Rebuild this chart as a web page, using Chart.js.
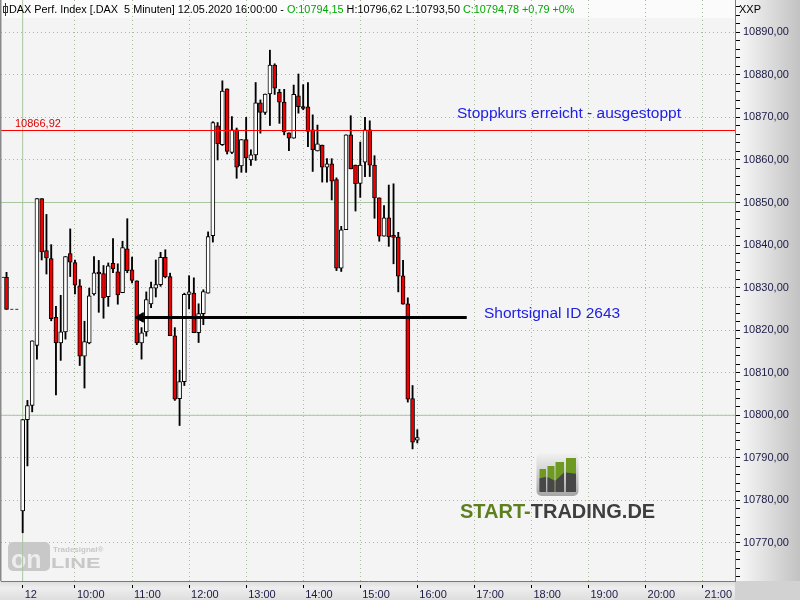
<!DOCTYPE html>
<html>
<head>
<meta charset="utf-8">
<script src="https://cdn.jsdelivr.net/npm/chart.js@4.4.0/dist/chart.umd.min.js"></script>
<style>
  html, body { margin: 0; padding: 0; background: #f4f4f4; }
  canvas { display: block; }
</style>
</head>
<body>
<canvas id="chart" width="800" height="600"></canvas>
<script>
/* ── DAX 5-Minuten, 12.05.2020 ── */

const barTimes = [
  '09:05','09:10','09:15','09:20','09:25','09:30','09:35','09:40','09:45','09:50','09:55','10:00',
  '10:05','10:10','10:15','10:20','10:25','10:30','10:35','10:40','10:45','10:50','10:55','11:00',
  '11:05','11:10','11:15','11:20','11:25','11:30','11:35','11:40','11:45','11:50','11:55','12:00',
  '12:05','12:10','12:15','12:20','12:25','12:30','12:35','12:40','12:45','12:50','12:55','13:00',
  '13:05','13:10','13:15','13:20','13:25','13:30','13:35','13:40','13:45','13:50','13:55','14:00',
  '14:05','14:10','14:15','14:20','14:25','14:30','14:35','14:40','14:45','14:50','14:55','15:00',
  '15:05','15:10','15:15','15:20','15:25','15:30','15:35','15:40','15:45','15:50','15:55','16:00',
];

const opens = [
  10777.5, 10799.0, 10802.3, 10816.4, 10850.9, 10838.7, 10836.8, 10823.0, 10817.0, 10819.6, 10838.0, 10835.9,
  10830.4, 10813.9, 10817.0, 10828.5, 10833.5, 10833.3, 10827.9, 10835.7, 10833.7, 10828.8, 10839.1, 10834.2,
  10831.6, 10817.0, 10819.6, 10826.2, 10829.9, 10830.7, 10837.1, 10832.6, 10818.7, 10803.9, 10807.9, 10828.4,
  10828.7, 10819.4, 10823.9, 10828.7, 10842.2, 10868.0, 10863.6, 10876.7, 10861.8, 10867.1, 10858.6, 10864.8,
  10860.0, 10861.2, 10873.4, 10871.2, 10875.5, 10882.3, 10875.9, 10873.6, 10866.4, 10865.1, 10875.1, 10872.5,
  10872.5, 10867.1, 10862.1, 10863.5, 10858.3, 10859.1, 10855.4, 10834.6, 10843.6, 10865.9, 10858.8, 10854.5,
  10859.5, 10867.1, 10858.8, 10851.1, 10842.1, 10846.4, 10842.0, 10841.9, 10832.8, 10826.2, 10803.9, 10794.15,
];
const highs = [
  10799.0, 10803.5, 10817.5, 10850.9, 10850.9, 10847.2, 10840.1, 10825.6, 10828.2, 10837.3, 10843.8, 10836.5,
  10831.9, 10822.1, 10829.9, 10837.3, 10836.4, 10835.2, 10835.8, 10841.5, 10835.6, 10840.9, 10846.2, 10837.2,
  10831.6, 10820.6, 10829.0, 10831.3, 10836.5, 10838.3, 10838.9, 10833.4, 10820.6, 10810.6, 10828.7, 10832.8,
  10832.3, 10826.2, 10829.5, 10843.1, 10869.0, 10868.8, 10878.6, 10876.7, 10870.2, 10867.5, 10864.8, 10870.0,
  10862.4, 10878.2, 10874.1, 10875.5, 10885.8, 10882.6, 10876.6, 10876.6, 10866.4, 10877.6, 10880.2, 10877.7,
  10878.2, 10870.6, 10868.2, 10863.5, 10860.3, 10860.3, 10855.8, 10844.4, 10865.9, 10870.4, 10858.8, 10864.2,
  10870.0, 10869.2, 10861.0, 10851.1, 10849.3, 10854.1, 10854.4, 10843.0, 10836.4, 10827.6, 10807.0, 10796.62,
];
const lows = [
  10772.4, 10788.1, 10800.8, 10813.2, 10836.5, 10833.2, 10822.2, 10804.8, 10812.9, 10817.9, 10832.6, 10828.5,
  10811.7, 10806.4, 10816.8, 10828.2, 10824.2, 10822.8, 10825.6, 10833.5, 10826.1, 10828.8, 10833.5, 10831.1,
  10816.6, 10813.2, 10818.6, 10825.3, 10827.8, 10830.3, 10832.3, 10818.7, 10803.5, 10797.6, 10807.0, 10825.0,
  10819.4, 10817.1, 10821.3, 10828.7, 10840.7, 10860.0, 10863.4, 10861.4, 10861.5, 10855.7, 10857.1, 10857.1,
  10858.7, 10859.9, 10866.3, 10870.7, 10868.1, 10875.4, 10868.6, 10865.9, 10862.2, 10865.1, 10871.0, 10871.8,
  10863.1, 10857.3, 10862.1, 10854.8, 10854.8, 10850.6, 10834.0, 10833.8, 10843.6, 10857.9, 10848.0, 10851.2,
  10856.1, 10856.1, 10846.3, 10840.9, 10842.1, 10839.7, 10835.6, 10829.0, 10826.1, 10803.1, 10792.1, 10793.50,
];
const closes = [
  10799.0, 10802.3, 10817.5, 10850.9, 10838.4, 10837.0, 10822.7, 10817.0, 10819.6, 10837.3, 10836.0, 10830.6,
  10813.9, 10817.3, 10828.1, 10833.5, 10833.2, 10827.6, 10835.1, 10834.4, 10828.3, 10839.4, 10834.0, 10831.7,
  10817.0, 10819.4, 10827.2, 10830.0, 10830.7, 10837.1, 10832.5, 10818.7, 10803.8, 10807.9, 10828.4, 10829.0,
  10819.4, 10823.9, 10829.1, 10842.0, 10868.8, 10863.8, 10876.2, 10862.0, 10867.1, 10858.3, 10864.8, 10860.5,
  10861.2, 10873.4, 10871.2, 10875.5, 10882.3, 10876.9, 10873.6, 10866.6, 10865.1, 10875.4, 10872.5, 10872.1,
  10866.7, 10862.4, 10863.8, 10858.3, 10859.1, 10855.0, 10834.6, 10843.6, 10865.9, 10857.9, 10854.4, 10858.8,
  10867.1, 10858.8, 10851.1, 10842.1, 10846.4, 10841.9, 10841.8, 10832.7, 10826.1, 10803.8, 10793.7, 10794.78,
];

// Vortag (Schlusskerze links vom Tagesbeginn)
const prevTime  = '08:48';
const prevOHLC  = [10832.4, 10833.6, 10824.9, 10824.9];
const prevOpenTick  = ['08:43', '08:47'];
const prevCloseTick = ['08:52', '09:01'];

// Achsen
const xTickTimes  = ['09:05','10:00','11:00','12:00','13:00','14:00','15:00','16:00','17:00','18:00','19:00','20:00','21:00'];
const xTickLabels = ['12','10:00','11:00','12:00','13:00','14:00','15:00','16:00','17:00','18:00','19:00','20:00','21:00'];

// Markierungen
const stopLevel   = 10866.92;
const greenLevels = [10850, 10800];
const signalLevel = 10823;
const signalFrom  = '11:09';
const signalTo    = '16:52';
const stopText    = 'Stoppkurs erreicht - ausgestoppt';
const signalText  = 'Shortsignal ID 2643';

const toMin = s => { const p = s.split(':'); return +p[0] * 60 + +p[1]; };
const fmt = v => v.toFixed(2).replace('.', ',');

const X_MIN = 522.2, X_MAX = 1294.1;
const Y_MIN = 10761.06, Y_MAX = 10897.59;
const FONT = '"Liberation Sans", Arial, sans-serif';
const LABEL = '#1a1a46';
const GRID  = '#a6b89e';
const GREEN = '#a9c6a0';

const hline = (y, color, extra) => Object.assign({
  type: 'line', data: [{ x: X_MIN, y }, { x: X_MAX, y }],
  borderColor: color, borderWidth: 1, pointRadius: 0, fill: false, order: 10,
}, extra || {});

function roundRect(ctx, x, y, w, h, r) {
  ctx.beginPath();
  ctx.moveTo(x + r, y);
  ctx.arcTo(x + w, y, x + w, y + h, r);
  ctx.arcTo(x + w, y + h, x, y + h, r);
  ctx.arcTo(x, y + h, x, y, r);
  ctx.arcTo(x, y, x + w, y, r);
  ctx.closePath();
}

/* ── Rahmen, Achsenflächen, Logos, Texte ── */
const decor = {
  id: 'decor',
  beforeDraw(chart) {
    const { ctx, chartArea: a, width, height } = chart;
    ctx.save();
    ctx.fillStyle = '#f4f4f4';
    ctx.fillRect(0, 0, width, height);
    // Kopfzeile
    ctx.fillStyle = 'rgba(255,255,255,0.6)';
    ctx.fillRect(a.left, 0, a.right - a.left, 18);
    // rechte Achse
    let g = ctx.createLinearGradient(a.right, 0, width, 0);
    g.addColorStop(0, '#fbfbfb');
    g.addColorStop(1, '#c2c2c2');
    ctx.fillStyle = g;
    ctx.fillRect(a.right, 0, width - a.right, a.bottom);
    // untere Achse
    g = ctx.createLinearGradient(0, a.bottom, 0, height);
    g.addColorStop(0, '#dcdcdc');
    g.addColorStop(0.35, '#eeeeee');
    g.addColorStop(1, '#dedede');
    ctx.fillStyle = g;
    ctx.fillRect(0, a.bottom, a.right, height - a.bottom);
    ctx.fillStyle = '#d2d2d2';
    ctx.fillRect(a.right, a.bottom, width - a.right, height - a.bottom);
    ctx.restore();
  },
  beforeDatasetsDraw(chart) {
    const { ctx } = chart;
    ctx.save();
    // Tradesignal online
    ctx.fillStyle = '#c8c8c8';
    roundRect(ctx, 8, 542, 42, 29, 5);
    ctx.fill();
    ctx.fillStyle = '#ededed';
    ctx.font = 'bold 25px ' + FONT;
    ctx.textBaseline = 'alphabetic';
    ctx.fillText('on', 11, 568);
    ctx.fillStyle = '#c8c8c8';
    ctx.font = 'bold 8px ' + FONT;
    ctx.fillText('Tradesignal\u00AE', 53, 552);
    ctx.save();
    ctx.translate(51, 568);
    ctx.scale(1.45, 1);
    ctx.font = 'bold 15px ' + FONT;
    ctx.fillText('LINE', 0, 0);
    ctx.restore();

    // START-TRADING.DE
    const g = ctx.createLinearGradient(0, 453, 0, 496);
    g.addColorStop(0, '#f2f2f2');
    g.addColorStop(1, '#a6a6a6');
    ctx.fillStyle = g;
    roundRect(ctx, 536.5, 453, 42, 43, 5);
    ctx.fill();
    const bars = [[539.5, 546, 469, 476.7, 475.5], [547.5, 554.5, 466, 475.5, 479], [555.5, 564, 462, 479, 471], [566, 576, 458, 471, 472.3]];
    bars.forEach(b => {
      ctx.fillStyle = '#6f9a22';
      ctx.fillRect(b[0], b[2], b[1] - b[0], 492 - b[2]);
      ctx.fillStyle = '#474747';
      ctx.beginPath();
      ctx.moveTo(b[0], b[3] + 1.5);
      ctx.lineTo(b[1], b[4] + 1.5);
      ctx.lineTo(b[1], 492);
      ctx.lineTo(b[0], 492);
      ctx.closePath();
      ctx.fill();
    });
    ctx.font = 'bold 20px ' + FONT;
    ctx.fillStyle = '#5e7f1d';
    ctx.fillText('START-', 460, 518);
    const w = ctx.measureText('START-').width;
    ctx.fillStyle = '#3e3e3e';
    ctx.fillText('TRADING.DE', 460 + w, 518);
    ctx.restore();
  },
  afterDraw(chart) {
    const { ctx, chartArea: a } = chart;
    ctx.save();
    // linker Rand
    ctx.fillStyle = '#8a8a8a';
    ctx.fillRect(0, 0, 1.5, a.bottom);

    // Kopfzeile mit letzter Kerze
    const n = closes.length - 1;
    const parts = [
      ['DAX Perf. Index [.DAX  5 Minuten] 12.05.2020 16:00:00 - ', '#000'],
      ['O:' + fmt(opens[n]), '#00a800'],
      [' H:' + fmt(highs[n]) + ' L:' + fmt(lows[n]) + ' ', '#000'],
      ['C:' + fmt(closes[n]) + ' +0,79 +0%', '#00a800'],
    ];
    ctx.font = '11px ' + FONT;
    const total = parts.reduce((s, p) => s + ctx.measureText(p[0]).width, 0);
    const size = Math.min(11, 11 * 566 / total);
    ctx.font = size + 'px ' + FONT;
    ctx.textBaseline = 'middle';
    let x = 9;
    parts.forEach(p => {
      ctx.fillStyle = p[1];
      ctx.fillText(p[0], x, 9.5);
      x += ctx.measureText(p[0]).width;
    });
    // kleines Kerzensymbol
    ctx.strokeStyle = '#333';
    ctx.lineWidth = 1;
    ctx.beginPath();
    ctx.moveTo(5.5, 3); ctx.lineTo(5.5, 16);
    ctx.stroke();
    ctx.strokeRect(3.5, 6.5, 4, 6);

    ctx.font = '11px ' + FONT;
    ctx.fillStyle = '#000';
    ctx.fillText('XXP', 739, 10);

    // Stopp-Label
    const ys = chart.scales.y;
    ctx.fillStyle = '#e00000';
    ctx.fillText(fmt(stopLevel), 15, ys.getPixelForValue(stopLevel) - 6.5);

    // Kommentare
    ctx.font = '15.5px ' + FONT;
    ctx.fillStyle = '#2020e6';
    ctx.fillText(stopText, 457, 114);
    ctx.fillText(signalText, 484, 314);
    ctx.restore();
  },
};

const bodyColors = closes.map((c, i) => (c >= opens[i] ? '#ffffff' : '#ee0000'));

new Chart(document.getElementById('chart'), {
  type: 'bar',
  data: {
    datasets: [
      {
        label: 'Dochte',
        data: barTimes.map((t, i) => ({ x: toMin(t), y: [lows[i], highs[i]] })),
        backgroundColor: '#000', barThickness: 1.2, grouped: false, order: 4,
      },
      {
        label: 'Körper',
        data: barTimes.map((t, i) => ({ x: toMin(t), y: [opens[i], closes[i]] })),
        backgroundColor: bodyColors, borderColor: '#000', borderWidth: 1, borderSkipped: false,
        barThickness: 4, minBarLength: 2, grouped: false, order: 3,
      },
      {
        label: 'Vortag Docht',
        data: [{ x: toMin(prevTime), y: [prevOHLC[2], prevOHLC[1]] }],
        backgroundColor: '#000', barThickness: 1.2, grouped: false, order: 4,
      },
      {
        label: 'Vortag Körper',
        data: [{ x: toMin(prevTime), y: [prevOHLC[0], prevOHLC[3]] }],
        backgroundColor: '#ee0000', borderColor: '#000', borderWidth: 1, borderSkipped: false,
        barThickness: 4, grouped: false, order: 3,
      },
      {
        type: 'line', data: prevOpenTick.map(t => ({ x: toMin(t), y: prevOHLC[0] })),
        borderColor: '#333', borderWidth: 1, borderDash: [3, 2], pointRadius: 0, order: 5,
      },
      {
        type: 'line', data: prevCloseTick.map(t => ({ x: toMin(t), y: prevOHLC[3] })),
        borderColor: '#333', borderWidth: 1, borderDash: [3, 2], pointRadius: 0, order: 5,
      },
      hline(greenLevels[0], GREEN),
      hline(greenLevels[1], GREEN),
      {
        type: 'line', data: [{ x: toMin(xTickTimes[0]), y: Y_MIN }, { x: toMin(xTickTimes[0]), y: Y_MAX }],
        borderColor: GREEN, borderWidth: 1, pointRadius: 0, order: 10,
      },
      hline(stopLevel, '#ff0000', { order: 2 }),
      {
        type: 'line',
        data: [{ x: toMin(signalFrom), y: signalLevel }, { x: toMin(signalTo), y: signalLevel }],
        borderColor: '#000', borderWidth: 3, backgroundColor: '#000',
        pointStyle: 'triangle', pointRadius: [5.5, 0], pointRotation: -90,
        pointBorderWidth: 1, pointBorderColor: '#000', pointBackgroundColor: '#000', order: 1,
      },
    ],
  },
  options: {
    responsive: false,
    animation: false,
    events: [],
    layout: { autoPadding: false, padding: { left: 1, top: 0, right: 0, bottom: 0 } },
    plugins: { legend: { display: false }, tooltip: { enabled: false } },
    scales: {
      x: {
        type: 'linear', min: X_MIN, max: X_MAX, offset: false,
        afterFit: s => { s.height = 19; s.paddingLeft = 0; s.paddingRight = 0; },
        afterBuildTicks: s => { s.ticks = xTickTimes.map(t => ({ value: toMin(t) })); },
        ticks: {
          autoSkip: false, maxRotation: 0, minRotation: 0, align: 'start', labelOffset: 2, padding: 0,
          color: LABEL, font: { family: FONT, size: 11 },
          callback: v => xTickLabels[xTickTimes.findIndex(t => toMin(t) === v)],
        },
        grid: {
          offset: false,
          color: c => (c.tick && c.tick.value === toMin(xTickTimes[0]) ? 'rgba(0,0,0,0)' : GRID),
          tickColor: '#000', tickLength: 7, tickBorderDash: [0, 3, 4, 20],
        },
        border: { color: '#7a7a7a', dash: [1, 3] },
      },
      y: {
        position: 'right', min: Y_MIN, max: Y_MAX, beginAtZero: false,
        afterFit: s => { s.width = 65; s.paddingTop = 0; s.paddingBottom = 0; },
        ticks: {
          stepSize: 2, includeBounds: false, autoSkip: false, padding: 3,
          color: LABEL, font: { family: FONT, size: 11 },
          callback: v => (Math.round(v) % 10 === 0 ? fmt(v) : ''),
        },
        grid: {
          color: c => (c.tick && Math.round(c.tick.value) % 10 === 0 ? GRID : 'rgba(0,0,0,0)'),
          tickColor: '#000', tickLength: 5,
        },
        border: { color: '#7a7a7a', dash: [1, 3] },
      },
    },
  },
  plugins: [decor],
});
</script>
</body>
</html>
